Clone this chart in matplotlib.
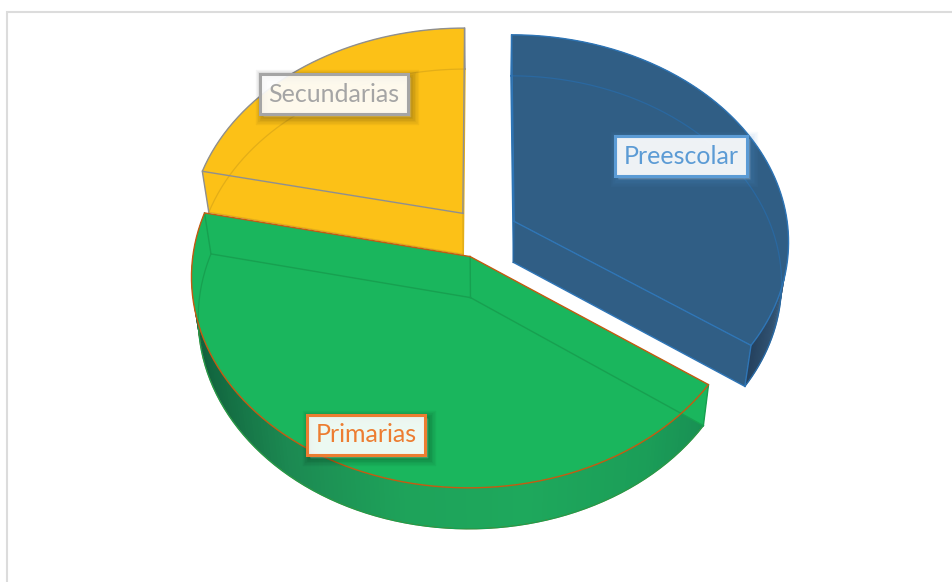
import numpy as np
import matplotlib
matplotlib.use('Agg')
import matplotlib.pyplot as plt
import matplotlib.patheffects as pe
from matplotlib.colors import LinearSegmentedColormap

categories = ['Preescolar', 'Primarias', 'Secundarias']
values = [34.8, 43.6, 21.6]
face_colors = ['#305e85', '#1ab65d', '#fcc117']
edge_colors = ['#2e75b6', '#c55a11', '#8f8f8f']
inner_colors = ['#2a68a0', '#17a050', '#e3ae18']
label_colors = ['#5b9bd5', '#ed7d31', '#a5a5a5']
explode = 0.124

# the projection of the tilted pie, in pixels of the picture
cx, cy = 484, 233
rx, ry = 274.5, 205.6
persp = 0.0913
depth = 41
shrink = 0.977


def project(X, Y, lower=False):
    w = 1 + persp * Y
    x = rx * X / w
    y = -ry * Y / w
    if lower:
        return cx + shrink * x, cy + y + depth
    return cx + x, cy + y


def shade(name, angle):
    # darker towards the left of the wall, as the light falls from the right
    if name == 'Primarias':
        cmap = LinearSegmentedColormap.from_list('g', ['#0f5c3a', '#1c8a52', '#1ea35a', '#1ea85c', '#1b9e58', '#168450'])
        t = (np.cos(angle) + 1) / 2
        return cmap(t)
    cmap = LinearSegmentedColormap.from_list('b', ['#3a5f80', '#1c3550', '#17293f'])
    t = (np.cos(angle) - 0.5) / 0.5
    return cmap(1 - np.clip(t, 0, 1))


def draw_slice(ax, name, start, end, face, edge, inner):
    mid = (start + end) / 2
    ox, oy = explode * np.cos(mid), explode * np.sin(mid)
    t = np.linspace(start, end, 160)
    ux, uy = project(ox + np.cos(t), oy + np.sin(t))
    lx, ly = project(ox + np.cos(t), oy + np.sin(t), lower=True)
    ax_, ay_ = project(ox, oy)
    bx, by = project(ox, oy, lower=True)

    # outer wall, in thin strips that overlap so no seams show
    for i in range(len(t) - 1):
        c = shade(name, t[i]) if name != 'Secundarias' else face
        j = min(i + 2, len(t) - 1)
        ax.fill([ux[i], ux[j], lx[j], lx[i]], [uy[i], uy[j], ly[j], ly[i]],
                color=c, lw=0, zorder=1)
    ax.plot(lx, ly, color=edge, lw=0.8, alpha=0.7, zorder=1)

    # the two cut walls
    for k in [0, -1]:
        ax.fill([ax_, ux[k], lx[k], bx], [ay_, uy[k], ly[k], by], color=face, lw=0, zorder=2)

    # top face
    ax.fill(np.r_[ax_, ux], np.r_[ay_, uy], color=face, lw=0, zorder=3)

    # lines of the lower face that show through
    ax.plot(np.r_[bx, lx[0]], np.r_[by, ly[0]], color=inner if name != 'Preescolar' else edge, lw=1, zorder=4)
    ax.plot(np.r_[bx, lx[-1]], np.r_[by, ly[-1]], color=inner if name != 'Preescolar' else edge, lw=1, zorder=4)
    ax.plot(lx, ly, color=inner, lw=0.9, zorder=4)
    ax.plot([ax_, bx], [ay_, by], color=inner, lw=1, zorder=4)
    ax.plot([ux[0], lx[0]], [uy[0], ly[0]], color=inner if name == 'Primarias' else edge, lw=1, zorder=4)
    ax.plot([ux[-1], lx[-1]], [uy[-1], ly[-1]], color=inner if name == 'Primarias' else edge, lw=1, zorder=4)

    # top outline
    ax.plot(np.r_[ax_, ux, ax_], np.r_[ay_, uy, ay_], color=edge, lw=1, zorder=5, solid_joinstyle='miter')


def main():
    plt.rcParams['font.family'] = ['Lato', 'DejaVu Sans']
    fig = plt.figure(figsize=(9.53, 5.82), dpi=100)
    ax = fig.add_axes([0, 0, 1, 1])
    ax.set_xlim(0, 953)
    ax.set_ylim(582, 0)
    ax.axis('off')

    # chart frame, cut by the picture on the right and at the bottom
    ax.plot([7, 7, 953], [582, 12, 12], color='#dcdcdc', lw=1.5, solid_joinstyle='miter', zorder=0)

    fracs = np.array(values) / sum(values)
    starts = np.pi / 2 - 2 * np.pi * np.r_[0, np.cumsum(fracs)[:-1]]
    ends = starts - 2 * np.pi * fracs

    # back slices first, the front one last
    for i in [2, 0, 1]:
        draw_slice(ax, categories[i], starts[i], ends[i], face_colors[i], edge_colors[i], inner_colors[i])

    label_pos = [(681, 156), (366, 435), (334, 94)]
    for name, pos, col in zip(categories, label_pos, label_colors):
        txt = ax.text(pos[0], pos[1], name, color=col, fontsize=18, ha='center', va='center', zorder=10,
                      bbox=dict(boxstyle='square,pad=0.34', fc=(1, 1, 1, 0.9), ec=col, lw=2.2))
        shadow = [pe.Stroke(linewidth=w, foreground='#000000' if name != 'Preescolar' else col,
                            alpha=0.045, offset=(2, -2)) for w in [11, 9, 7, 5, 3, 1]]
        txt.get_bbox_patch().set_path_effects(shadow + [pe.Normal()])

    fig.savefig('out.png', dpi=100)


if __name__ == '__main__':
    main()
